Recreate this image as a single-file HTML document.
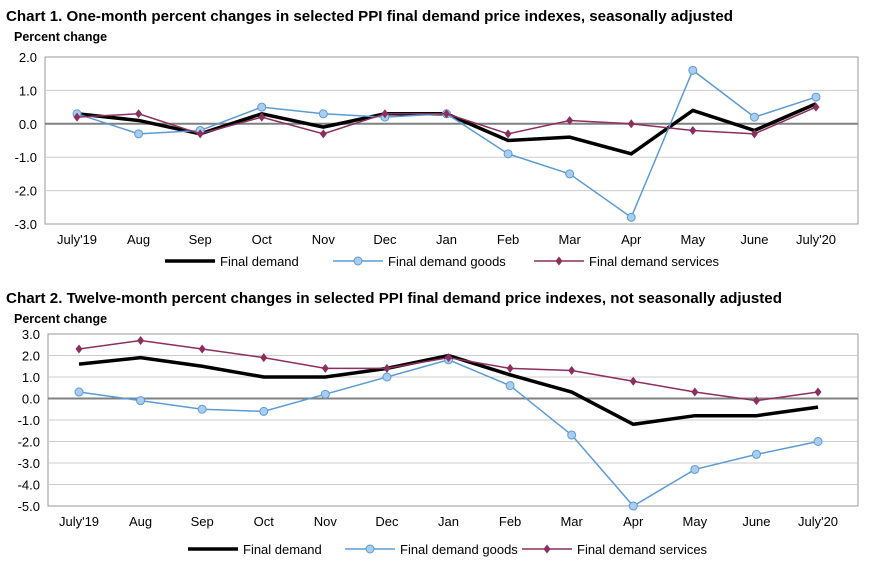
<!DOCTYPE html>
<html><head><meta charset="utf-8"><style>
body{margin:0;background:#fff;width:872px;height:571px;overflow:hidden;font-family:"Liberation Sans",Arial,sans-serif}
svg text{font-family:"Liberation Sans",Arial,sans-serif}
</style></head><body>
<svg id="s" width="872" height="571"></svg>
<script>
const months=["July'19","Aug","Sep","Oct","Nov","Dec","Jan","Feb","Mar","Apr","May","June","July'20"];
const c1Final=[0.3,0.1,-0.3,0.3,-0.1,0.3,0.3,-0.5,-0.4,-0.9,0.4,-0.2,0.6];
const c1Goods=[0.3,-0.3,-0.2,0.5,0.3,0.2,0.3,-0.9,-1.5,-2.8,1.6,0.2,0.8];
const c1Serv=[0.2,0.3,-0.3,0.2,-0.3,0.3,0.3,-0.3,0.1,0.0,-0.2,-0.3,0.5];
const c1Ticks=["2.0","1.0","0.0","-1.0","-2.0","-3.0"];
const c2Final=[1.6,1.9,1.5,1.0,1.0,1.4,2.0,1.1,0.3,-1.2,-0.8,-0.8,-0.4];
const c2Goods=[0.3,-0.1,-0.5,-0.6,0.2,1.0,1.8,0.6,-1.7,-5.0,-3.3,-2.6,-2.0];
const c2Serv=[2.3,2.7,2.3,1.9,1.4,1.4,1.9,1.4,1.3,0.8,0.3,-0.1,0.3];
const c2Ticks=["3.0","2.0","1.0","0.0","-1.0","-2.0","-3.0","-4.0","-5.0"];
const S=document.getElementById('s'),NS='http://www.w3.org/2000/svg';
function el(t,a,p){const e=document.createElementNS(NS,t);for(const k in a)e.setAttribute(k,a[k]);(p||S).appendChild(e);return e;}
function txt(x,y,s,a){const t=el('text',Object.assign({x:x,y:y,'font-size':13,fill:'#000'},a||{}));t.textContent=s;return t;}
function chart(o){
  const g=el('g',{});
  
  
  const ymax=parseFloat(o.ticks[0]),ymin=parseFloat(o.ticks[o.ticks.length-1]);
  const y=v=>o.top+(ymax-v)/(ymax-ymin)*(o.bot-o.top);
  const x=i=>o.x0+i*(o.x1-o.x0)/(months.length-1);
  const tt=txt(6,o.titleY,o.title,{'font-weight':'bold','font-size':14.5,textLength:o.tw,lengthAdjust:'spacingAndGlyphs'});
  
  const yt=txt(14,o.titleY+20,'Percent change',{'font-weight':'bold','font-size':12.5});
  
  el('rect',{x:o.left,y:o.top,width:o.right-o.left,height:o.bot-o.top,fill:'#fff',stroke:'#999'},g);
  o.ticks.forEach(t=>{const v=parseFloat(t),yy=y(v);
    if(v!==0&&yy>o.top+1&&yy<o.bot-1)el('line',{x1:o.left,x2:o.right,y1:yy,y2:yy,stroke:'#ccc','stroke-width':1},g);
    const l=txt(o.left-8,yy+5,t,{'text-anchor':'end','font-size':13});
    });
  el('line',{x1:o.left,x2:o.right,y1:y(0),y2:y(0),stroke:'#808080','stroke-width':2},g);
  months.forEach((m,i)=>{const l=txt(x(i),o.bot+20,m,{'text-anchor':'middle','font-size':13});
    });
  const pts=a=>a.map((v,i)=>x(i)+','+y(v)).join(' ');
  const pf=el('polyline',{points:pts(o.fin),fill:'none',stroke:'#000','stroke-width':3.5},g);
  
  const pg=el('polyline',{points:pts(o.gds),fill:'none',stroke:'#5b9bd5','stroke-width':1.5},g);
  
  o.gds.forEach((v,i)=>{const c=el('circle',{cx:x(i),cy:y(v),r:4,fill:'#a9cdf0',stroke:'#5b9bd5','stroke-width':1},g);
    });
  const ps=el('polyline',{points:pts(o.srv),fill:'none',stroke:'#8b2f5e','stroke-width':1.5},g);
  
  o.srv.forEach((v,i)=>{const cx=x(i),cy=y(v);const d=el('polygon',{points:`${cx},${cy-4.5} ${cx+3.5},${cy} ${cx},${cy+4.5} ${cx-3.5},${cy}`,fill:'#8b2f5e'},g);
    });
  const L=o.leg,ly=o.legY;
  el('line',{x1:L[0],x2:L[0]+50,y1:ly,y2:ly,stroke:'#000','stroke-width':3.5});
  let t=txt(L[0]+55,ly+5,'Final demand');
  el('line',{x1:L[1],x2:L[1]+50,y1:ly,y2:ly,stroke:'#5b9bd5','stroke-width':1.5});
  el('circle',{cx:L[1]+25,cy:ly,r:4,fill:'#a9cdf0',stroke:'#5b9bd5'});
  t=txt(L[1]+55,ly+5,'Final demand goods');
  el('line',{x1:L[2],x2:L[2]+50,y1:ly,y2:ly,stroke:'#8b2f5e','stroke-width':1.5});
  el('polygon',{points:`${L[2]+25},${ly-4.5} ${L[2]+28.5},${ly} ${L[2]+25},${ly+4.5} ${L[2]+21.5},${ly}`,fill:'#8b2f5e'});
  t=txt(L[2]+55,ly+5,'Final demand services');
}
chart({name:'chart-1',title:'Chart 1. One-month percent changes in selected PPI final demand price indexes, seasonally adjusted',titleY:21,tw:727,
 ticks:c1Ticks,top:57,bot:224,left:45,right:858,x0:77,x1:816,fin:c1Final,gds:c1Goods,srv:c1Serv,leg:[165,333,534],legY:261});
chart({name:'chart-2',title:'Chart 2. Twelve-month percent changes in selected PPI final demand price indexes, not seasonally adjusted',titleY:303,tw:776,
 ticks:c2Ticks,top:334,bot:506,left:48,right:858,x0:79,x1:818,fin:c2Final,gds:c2Goods,srv:c2Serv,leg:[188,345,522],legY:549});
</script>
</body></html>
